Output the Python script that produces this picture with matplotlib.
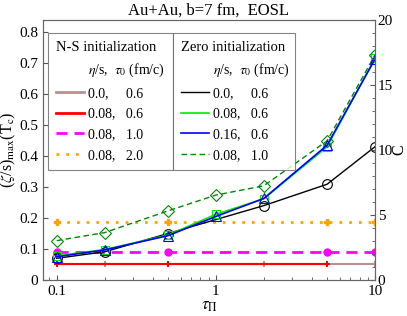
import matplotlib
matplotlib.use("Agg")
import matplotlib.pyplot as plt
from matplotlib.lines import Line2D
from matplotlib.ticker import MultipleLocator, FixedLocator

plt.rcParams['font.family'] = ['Liberation Serif', 'DejaVu Serif']
plt.rcParams['mathtext.fontset'] = 'stix'

tau_pi = [0.1, 0.2, 0.5, 1, 2, 5, 10]

# N-S initialization (constant)
ns_brown_x = [0.2, 2, 10]
ns_brown_y = [0.052, 0.052, 0.052]
ns_red_x = [0.1, 0.5, 5]
ns_red_y = [0.052, 0.052, 0.052]
ns_mag_x = [0.1, 0.5, 5, 10]
ns_mag_y = [0.090, 0.090, 0.090, 0.090]
ns_orange_x = [0.1, 0.5, 5, 10]
ns_orange_y = [0.186, 0.186, 0.186, 0.186]

# Zero initialization
zero_black_x = [0.1, 0.2, 0.5, 2, 5, 10]
zero_black_y = [0.070, 0.091, 0.150, 0.240, 0.309, 0.430]
zero_lime_y = [0.078, 0.098, 0.145, 0.212, 0.262, 0.430, 0.715]
zero_blue_y = [0.075, 0.097, 0.143, 0.205, 0.263, 0.435, 0.713]
zero_dgreen_y = [0.127, 0.153, 0.223, 0.274, 0.304, 0.449, 0.726]

ns_labels = ["0.0,     0.6", "0.08,   0.6", "0.08,   1.0", "0.08,   2.0"]
zero_labels = ["0.0,     0.6", "0.08,   0.6", "0.16,   0.6", "0.08,   1.0"]

W, H = 407, 316
fig = plt.figure(figsize=(W/100, H/100), dpi=100)
ax = fig.add_axes([43/W, (316-280)/H, (375-43)/W, (280-20)/H])

brown = '#bc8f8f'
red = '#ff0000'
mag = '#ff00ff'
orange = '#ffa500'
black = '#000000'
lime = '#00ee00'
blue = '#0000ff'
dgreen = '#008800'

ax.plot(ns_brown_x, ns_brown_y, color=brown, lw=1.5, marker='+', ms=5, mew=1.5, zorder=2)
ax.plot(ns_red_x, ns_red_y, color=red, lw=1.5, marker='+', ms=5, mew=1.5, zorder=3)
ax.plot(ns_mag_x, ns_mag_y, color=mag, lw=2, ls=(0, (4, 2.5)), marker='o', ms=5, zorder=3)
ax.plot(ns_orange_x, ns_orange_y, color=orange, lw=2, ls=(0, (1, 2.5)), marker='P', ms=5, zorder=3)

ax.plot(zero_black_x, zero_black_y, color=black, lw=1, marker='o', ms=7, mfc='none', mew=0.8, zorder=4)
ax.plot(tau_pi, zero_lime_y, color=lime, lw=1.2, marker='s', ms=6, mfc='none', mew=0.8, zorder=4)
ax.plot(tau_pi, zero_blue_y, color=blue, lw=1.2, marker='^', ms=7, mfc='none', mew=0.8, zorder=5)
ax.plot(tau_pi, zero_dgreen_y, color=dgreen, lw=1, ls=(0, (4, 2.5)), marker='D', ms=6, mfc='none', mew=0.8, zorder=4)

ax.set_xscale('log')
ax.set_xlim(0.082, 10)
ax.set_ylim(0, 0.839)
ax.yaxis.set_major_locator(FixedLocator([0, 0.1, 0.2, 0.3, 0.4, 0.5, 0.6, 0.7, 0.8]))
ax.set_yticklabels(['0', '0.1', '0.2', '0.3', '0.4', '0.5', '0.6', '0.7', '0.8'])
ax.set_xticks([0.1, 1, 10])
ax.set_xticklabels(['0.1', '1', '10'])
ax.tick_params(axis='both', direction='in', labelsize=11, colors='#555555', labelcolor='black')
ax.tick_params(axis='x', which='minor', direction='in', colors='#555555')
ax.tick_params(top=False, right=False)
for s in ax.spines.values():
    s.set_color('#666666')

ax.set_xlabel(r'$\tau_\Pi$', fontsize=12, labelpad=0)
ax.set_ylabel(r'($\zeta$/s)$_{\rm max}$(T$_{\rm c}$)', fontsize=11.5, labelpad=1)
ax.set_title('Au+Au, b=7 fm,  EOSL', fontsize=12, pad=4)

ax2 = ax.twinx()
ax2.set_ylim(0, 20)
ax2.yaxis.set_major_locator(MultipleLocator(5))
ax2.yaxis.set_minor_locator(MultipleLocator(1))
ax2.tick_params(axis='y', which='both', direction='in', labelsize=11, colors='#555555', labelcolor='black', pad=2)
ax2.set_ylabel('C', fontsize=11.5, labelpad=-1)
for s in ax2.spines.values():
    s.set_color('#666666')

blank = Line2D([], [], color='none')
ns_handles = [blank,
              Line2D([], [], color=brown, lw=2),
              Line2D([], [], color=red, lw=2),
              Line2D([], [], color=mag, lw=2, ls=(0, (4, 2.5))),
              Line2D([], [], color=orange, lw=2, ls=(0, (1, 2.5)))]
zero_handles = [blank,
                Line2D([], [], color=black, lw=1),
                Line2D([], [], color=lime, lw=1.2),
                Line2D([], [], color=blue, lw=1.2),
                Line2D([], [], color=dgreen, lw=1, ls=(0, (4, 2.5)))]
sub = r'$\eta$/s,  $\tau_0$ (fm/c)'

x0 = (48 - 43) / 332
xm = (173 - 43) / 332
x1 = (295 - 43) / 332
ytop = 1 - (33 - 20) / 260

common = dict(loc='upper left', fontsize=10, title_fontsize=10.5, frameon=True,
              fancybox=False, handlelength=2.0, handletextpad=0.3, labelspacing=0.55,
              borderpad=0.6, borderaxespad=0, mode='expand')

leg1 = ax.legend(ns_handles, [sub] + ns_labels, title='N-S initialization',
                 bbox_to_anchor=(x0, ytop - 0.5, xm - x0, 0.5), **common)
leg1.get_frame().set_edgecolor('#666666')
leg1.get_frame().set_linewidth(0.8)
leg1._legend_box.align = 'left'
ax.add_artist(leg1)

leg2 = ax.legend(zero_handles, [sub] + zero_labels, title='Zero initialization',
                 bbox_to_anchor=(xm, ytop - 0.5, x1 - xm, 0.5), **common)
leg2.get_frame().set_edgecolor('#666666')
leg2.get_frame().set_linewidth(0.8)
leg2._legend_box.align = 'left'

fig.savefig('out.png', dpi=100)
